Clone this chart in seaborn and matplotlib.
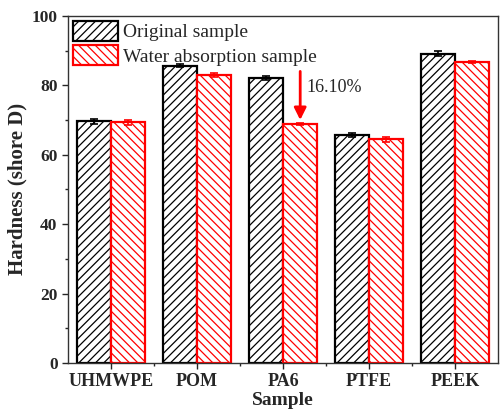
import matplotlib
matplotlib.use("Agg")
import matplotlib.pyplot as plt
import seaborn as sns
import pandas as pd
import numpy as np
from matplotlib.ticker import MultipleLocator, FixedLocator
from matplotlib.patches import Patch

categories = ["UHMWPE", "POM", "PA6", "PTFE", "PEEK"]
original = [69.6, 85.6, 82.0, 65.7, 89.1]
original_err = [0.7, 0.4, 0.6, 0.6, 0.7]
water = [69.3, 83.0, 68.8, 64.4, 86.7]
water_err = [0.7, 0.6, 0.3, 0.8, 0.3]
series = ["Original sample", "Water absorption sample"]

df = pd.DataFrame({
    "Sample": categories * 2,
    "Hardness": original + water,
    "err": original_err + water_err,
    "Series": [series[0]] * 5 + [series[1]] * 5,
})

sns.set_style("ticks")
plt.rcParams['font.family'] = ['Liberation Serif', 'DejaVu Serif']
plt.rcParams['hatch.linewidth'] = 0.9

fig = plt.figure(figsize=(5.0, 4.17), dpi=100)
ax = fig.add_axes([0.136, 0.1295, 0.86, 0.8325])

edge = {series[0]: "black", series[1]: "red"}
sns.barplot(data=df, x="Sample", y="Hardness", hue="Series", order=categories,
            hue_order=series, palette={series[0]: "white", series[1]: "white"},
            errorbar=None, width=0.8, ax=ax, legend=False, saturation=1)

hatches = {series[0]: "////", series[1]: "\\\\\\\\"}
for container, s in zip(ax.containers, series):
    for bar in container:
        bar.set_edgecolor(edge[s])
        bar.set_hatch(hatches[s])
        bar.set_linewidth(1.6)
    xs = [b.get_x() + b.get_width() / 2 for b in container]
    vals = original if s == series[0] else water
    errs = original_err if s == series[0] else water_err
    ax.errorbar(xs, vals, yerr=errs, fmt="none", ecolor=edge[s], capsize=3,
                elinewidth=1.2, capthick=1.2, zorder=5)

ax.set_ylim(0, 100)
ax.set_xlim(-0.5, 4.5)
ax.yaxis.set_major_locator(MultipleLocator(20))
ax.yaxis.set_minor_locator(MultipleLocator(10))
ax.xaxis.set_minor_locator(FixedLocator([0.5, 1.5, 2.5, 3.5]))
ax.tick_params(axis="x", which="major", direction="out", length=4, width=1,
               labelsize=13)
ax.tick_params(axis="y", which="major", direction="out", length=4, width=1,
               labelsize=12.5)
ax.tick_params(axis="both", which="minor", direction="out", length=2.5, width=1)
for lbl in ax.get_xticklabels() + ax.get_yticklabels():
    lbl.set_fontweight("bold")
for sp in ax.spines.values():
    sp.set_visible(True)
    sp.set_linewidth(1.0)
    sp.set_color("#333333")

ax.set_xlabel("Sample", fontsize=14, fontweight="bold", labelpad=1)
ax.set_ylabel("Hardness (shore D)", fontsize=15, fontweight="bold", labelpad=3)

handles = [Patch(facecolor="white", edgecolor="black", hatch="////", linewidth=1.6),
           Patch(facecolor="white", edgecolor="red", hatch="\\\\\\\\", linewidth=1.6)]
ax.legend(handles, series, loc="upper left", frameon=False, fontsize=14,
          handlelength=2.3, handleheight=1.2, handletextpad=0.3,
          borderaxespad=0.1, labelspacing=0.2, borderpad=0.15)

ax.annotate("", xy=(2.2, 70.0), xytext=(2.2, 84.0),
            arrowprops=dict(arrowstyle="-|>", color="red", lw=2,
                            mutation_scale=18, shrinkA=0, shrinkB=0))
ax.text(2.27, 79.5, "16.10%", fontsize=13, ha="left", va="center")

fig.savefig("out.png", dpi=100)
